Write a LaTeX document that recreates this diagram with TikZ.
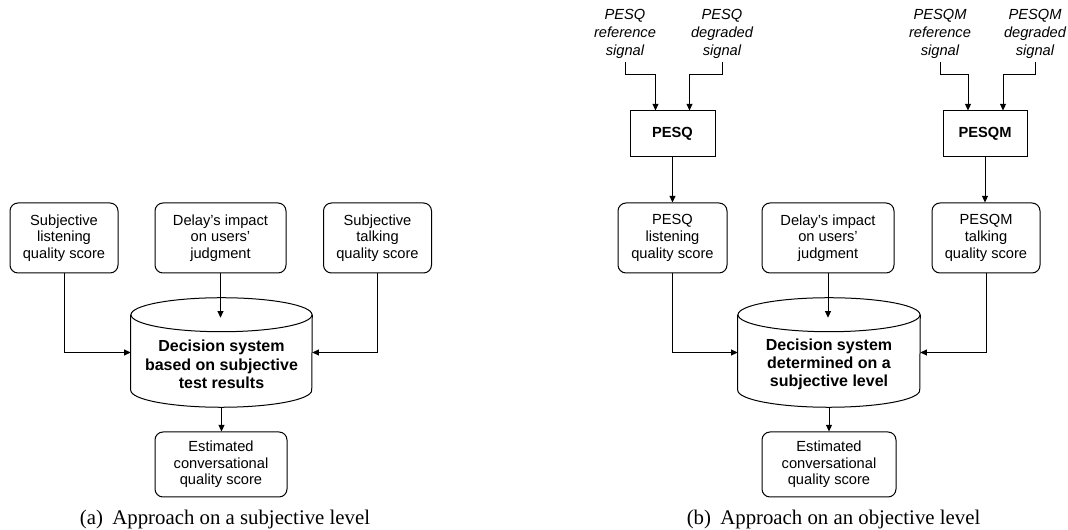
\documentclass[tikz,border=0pt]{standalone}
\usepackage{fontspec}
\setmainfont{Liberation Sans}
\newfontfamily\capfont{Liberation Serif}
\usetikzlibrary{arrows.meta,calc}
\tikzset{
  rbox/.style={draw, line width=0.75pt, rounded corners=6pt, align=center, inner sep=0pt,
    minimum height=52.5pt, font=\fontsize{11}{12.5}\selectfont},
  sbox/.style={draw, line width=0.75pt, align=center, inner sep=0pt,
    minimum width=63.75pt, minimum height=34.5pt, font=\bfseries\fontsize{11}{13}\selectfont},
  cylnode/.style={inner sep=0pt, minimum width=135.75pt, minimum height=81.75pt},
  cyltext/.style={align=center, inner sep=0pt, font=\bfseries\fontsize{12}{13.75}\selectfont},
  sig/.style={align=center, inner xsep=0pt, inner ysep=2pt, font=\itshape\fontsize{11}{13.75}\selectfont},
  caption/.style={inner sep=0pt, font=\capfont\fontsize{15.6}{18}\selectfont},
  arr/.style={line width=0.75pt, -{Triangle[length=5pt,width=4.5pt]}},
  cylline/.style={line width=0.75pt}
}
\begin{document}
\begin{tikzpicture}[x=0.75pt,y=-0.75pt]
\useasboundingbox (0,0) rectangle (1068,530);

% ---------- (a) ----------
\node[rbox, minimum width=81pt] (sl) at (64,238) {Subjective\\listening\\quality score};
\node[rbox, minimum width=98.25pt] (dl) at (220.5,238) {Delay's impact\\on users'\\judgment};
\node[rbox, minimum width=81pt] (tl) at (377.5,238) {Subjective\\talking\\quality score};
\node[cylnode] (cl) at (221.5,352.5) {};
\draw[cylline] ($(cl.north)+(0,17)$) ellipse [x radius=90.5, y radius=17];
\draw[cylline] ($(cl.north west)+(0,17)$) -- ($(cl.south west)+(0,-17)$)
  arc[start angle=180, end angle=0, x radius=90.5, y radius=17] -- ($(cl.north east)+(0,17)$);
\node[cyltext] (clt) at ($(cl.center)+(0,12)$) {Decision system\\based on subjective\\test results};
\coordinate (cltop) at ($(cl.north)+(0,20)$);
\node[rbox, minimum width=99pt, minimum height=48.75pt] (el) at (221,464.5) {Estimated\\conversational\\quality score};
\node[caption] (capa) at (225,519) {(a)\hspace{0.45em}Approach on a subjective level};

\draw[arr] (sl.south) |- (cl.west);
\draw[arr] (tl.south) |- (cl.east);
\draw[arr] (dl.south) -- (dl.south |- cltop);
\draw[arr] (cl.south) -- (cl.south |- el.north);

% ---------- (b) ----------
\node[sig] (r1) at (625,34) {PESQ\\reference\\signal};
\node[sig] (d1) at (722,34) {PESQ\\degraded\\signal};
\node[sig] (r2) at (940,34) {PESQM\\reference\\signal};
\node[sig] (d2) at (1035,34) {PESQM\\degraded\\signal};
\node[sbox] (pesq) at (672.5,134) {PESQ};
\node[sbox, minimum width=63pt] (pesqm) at (985,134) {PESQM};

\node[rbox, minimum width=81.75pt] (sr) at (672.5,238) {PESQ\\listening\\quality score};
\node[rbox, minimum width=99pt] (dr) at (828,238) {Delay's impact\\on users'\\judgment};
\node[rbox, minimum width=81pt] (tr) at (986,238) {PESQM\\talking\\quality score};
\node[cylnode, minimum width=136.5pt] (cr) at (829,352.5) {};
\draw[cylline] ($(cr.north)+(0,17)$) ellipse [x radius=91, y radius=17];
\draw[cylline] ($(cr.north west)+(0,17)$) -- ($(cr.south west)+(0,-17)$)
  arc[start angle=180, end angle=0, x radius=91, y radius=17] -- ($(cr.north east)+(0,17)$);
\node[cyltext] (crt) at ($(cr.center)+(0,12)$) {Decision system\\determined on a\\subjective level};
\coordinate (crtop) at ($(cr.north)+(0,20)$);
\node[rbox, minimum width=100.5pt, minimum height=48.75pt] (er) at (829,464.5) {Estimated\\conversational\\quality score};
\node[caption] (capb) at (833.5,519) {(b)\hspace{0.45em}Approach on an objective level};

\draw[arr] (r1.south) -- ++(0,13) -| ($(pesq.north)+(-17,0)$);
\draw[arr] (d1.south) -- ++(0,13) -| ($(pesq.north)+(17,0)$);
\draw[arr] (r2.south) -- ++(0,13) -| ($(pesqm.north)+(-17,0)$);
\draw[arr] (d2.south) -- ++(0,13) -| ($(pesqm.north)+(18,0)$);
\draw[arr] (pesq.south) -- (pesq.south |- sr.north);
\draw[arr] (pesqm.south) -- (pesqm.south |- tr.north);
\draw[arr] (sr.south) |- (cr.west);
\draw[arr] (tr.south) |- (cr.east);
\draw[arr] (dr.south) -- (dr.south |- crtop);
\draw[arr] (cr.south) -- (cr.south |- er.north);
\end{tikzpicture}
\end{document}
